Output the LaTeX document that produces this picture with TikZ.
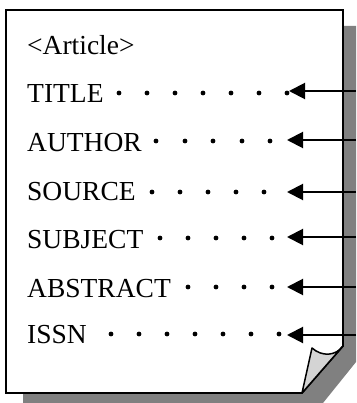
\documentclass[tikz,border=0pt]{standalone}
\usepackage{fontspec}
\setmainfont{Liberation Serif}
\usetikzlibrary{arrows.meta}
\definecolor{shadowgray}{RGB}{128,128,128}
\definecolor{curlgray}{RGB}{212,212,212}
\tikzset{
  field/.style={anchor=base west, inner sep=0pt, font=\fontsize{27.5}{30}\selectfont},
  leader/.style={fill=black},
  pointer/.style={line width=2pt, -{Triangle[length=16pt,width=16pt]}},
  sheet/.style={draw=black, line width=1.8pt, fill=white, line join=miter},
}
\begin{document}
\begin{tikzpicture}[x=1pt,y=-1pt]
  \useasboundingbox (0,0) rectangle (356,403);
  % drop shadow behind the sheet, with its cut corner
  \fill[shadowgray] (23,26) -- (356,26) -- (356,362) -- (323,403) -- (23,403) -- cycle;
  % the sheet
  \draw[sheet] (6,10) -- (343,10) -- (343,346) -- (302,393) -- (6,393) -- cycle;
  % turned-up corner
  \draw[line width=1.5pt, fill=curlgray, line join=round]
    (343,346) -- (302,393) -- (312,348) .. controls (322,357) and (336,356) .. (343,346);

  % field names
  \node[field] (art) at (27,55) {<Article>};
  \node[field] (title) at (27,103) {TITLE};
  \node[field] (author) at (27,152) {AUTHOR};
  \node[field] (source) at (27,200) {SOURCE};
  \node[field] (subject) at (27,248) {SUBJECT};
  \node[field] (abstract) at (27,297) {ABSTRACT};
  \node[field] (issn) at (27,343) {ISSN};

  % dotted leaders
  \foreach \x in {119,147,175,203,231,259,287} \fill[leader] (\x,93) circle (2.4);
  \foreach \x in {156,185,213,242,270} \fill[leader] (\x,141) circle (2.4);
  \foreach \x in {152,180,208,236,264} \fill[leader] (\x,192) circle (2.4);
  \foreach \x in {160,188,216,244,272} \fill[leader] (\x,238) circle (2.4);
  \foreach \x in {188,216,244,272} \fill[leader] (\x,287) circle (2.4);
  \foreach \x in {111,139,167,195,223,251,279} \fill[leader] (\x,334) circle (2.4);

  % incoming pointers
  \foreach \n/\y/\t in {1/91/289, 2/140/287, 3/192/287, 4/237/287, 5/287/287, 6/335/287} {
    \coordinate (src\n) at (356,\y);
    \coordinate (dst\n) at (\t,\y);
    \draw[pointer] (src\n) -- (dst\n);
  }
\end{tikzpicture}
\end{document}
